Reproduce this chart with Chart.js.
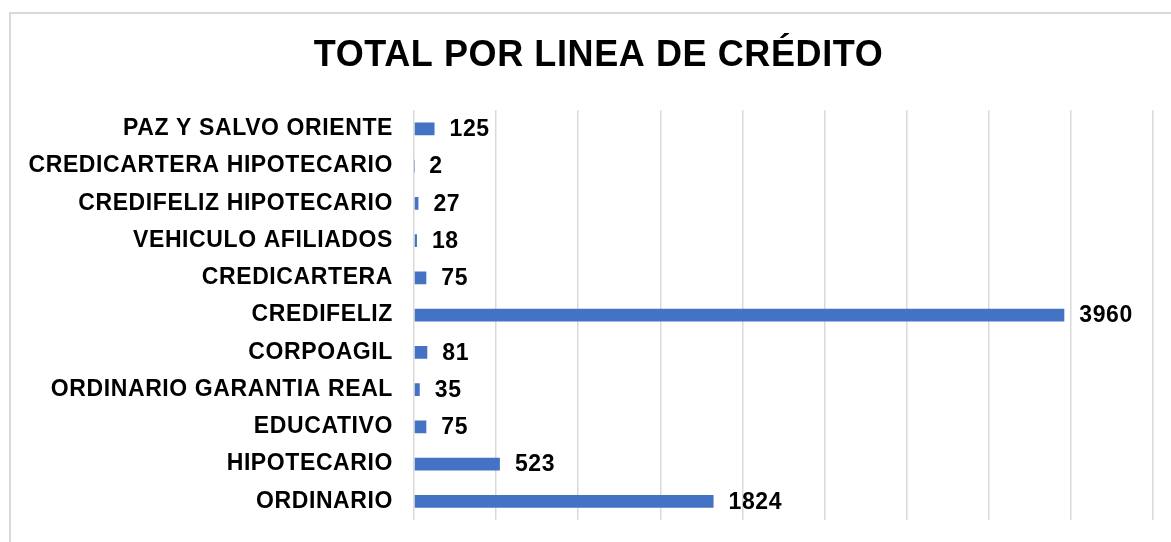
<!DOCTYPE html>
<html>
<head>
<meta charset="utf-8">
<script src="https://cdn.jsdelivr.net/npm/chart.js@4.4.1/dist/chart.umd.min.js"></script>
<style>
  html, body { margin: 0; padding: 0; background: #fff; overflow: hidden; }
  body { width: 1171px; height: 542px; position: relative; }
  .frame { position: absolute; left: 9px; top: 12px; width: 1190px; height: 560px; border: 2px solid #d9d9d9; box-sizing: border-box; }
  .chart-box { position: absolute; left: 0; top: 13px; width: 1171px; height: 580px; }
</style>
</head>
<body>
<div class="frame"></div>
<div class="chart-box"><canvas id="chart-lineas"></canvas></div>
<script>
(function () {
  'use strict';

  var LINEAS = [
    'PAZ Y SALVO ORIENTE',
    'CREDICARTERA HIPOTECARIO',
    'CREDIFELIZ HIPOTECARIO',
    'VEHICULO AFILIADOS',
    'CREDICARTERA',
    'CREDIFELIZ',
    'CORPOAGIL',
    'ORDINARIO GARANTIA REAL',
    'EDUCATIVO',
    'HIPOTECARIO',
    'ORDINARIO'
  ];
  var TOTALES = [125, 2, 27, 18, 75, 3960, 81, 35, 75, 523, 1824];
  var X_MAX = 4500;
  var X_STEP = 500;

  var FONT = "'Liberation Sans', Arial, sans-serif";
  var AZUL = '#4472C4';
  var SPACING = '0.6px';

  // Excel-style spacing between letters
  var spacingPlugin = {
    id: 'spacing',
    beforeLayout: function (chart) { chart.ctx.letterSpacing = SPACING; },
    beforeDraw: function (chart) { chart.ctx.letterSpacing = SPACING; }
  };

  // title is centred on the whole frame, not only up to the plot's right edge
  var titleShift = {
    id: 'titleShift',
    afterLayout: function (chart) {
      if (chart.titleBlock) chart.titleBlock.left = 44;
    }
  };

  // value labels at the end of each bar
  var valueLabels = {
    id: 'valueLabels',
    afterDatasetsDraw: function (chart) {
      var ctx = chart.ctx;
      var meta = chart.getDatasetMeta(0);
      ctx.save();
      ctx.letterSpacing = SPACING;
      ctx.font = 'bold 23px ' + FONT;
      ctx.fillStyle = '#000';
      ctx.textAlign = 'left';
      ctx.textBaseline = 'middle';
      meta.data.forEach(function (bar, i) {
        ctx.fillText(String(TOTALES[i]), bar.x + 15, bar.y + 1);
      });
      ctx.restore();
    }
  };

  new Chart(document.getElementById('chart-lineas'), {
    type: 'bar',
    data: {
      labels: LINEAS,
      datasets: [{ label: 'Total', data: TOTALES, backgroundColor: AZUL, borderWidth: 0, barPercentage: 0.34, categoryPercentage: 1 }]
    },
    options: {
      indexAxis: 'y',
      responsive: true,
      maintainAspectRatio: false,
      animation: false,
      layout: { padding: { top: 0, right: 18, bottom: 73, left: 0 } },
      plugins: {
        legend: { display: false },
        tooltip: { enabled: false },
        title: {
          display: true,
          text: 'TOTAL POR LINEA DE CRÉDITO',
          color: '#000',
          font: { family: FONT, size: 36, weight: 'bold', lineHeight: 1.2 },
          padding: { top: 21, bottom: 33 }
        }
      },
      scales: {
        x: {
          min: 0,
          max: X_MAX,
          ticks: { display: false, stepSize: X_STEP },
          grid: { color: '#d9d9d9', lineWidth: 1.5, drawTicks: false },
          border: { display: false }
        },
        y: {
          afterFit: function (scale) { scale.width = 414; },
          ticks: { color: '#000', padding: 21, font: { family: FONT, size: 23, weight: 'bold' } },
          grid: { display: false, drawTicks: false },
          border: { display: false }
        }
      }
    },
    plugins: [spacingPlugin, titleShift, valueLabels]
  });
})();
</script>
</body>
</html>
